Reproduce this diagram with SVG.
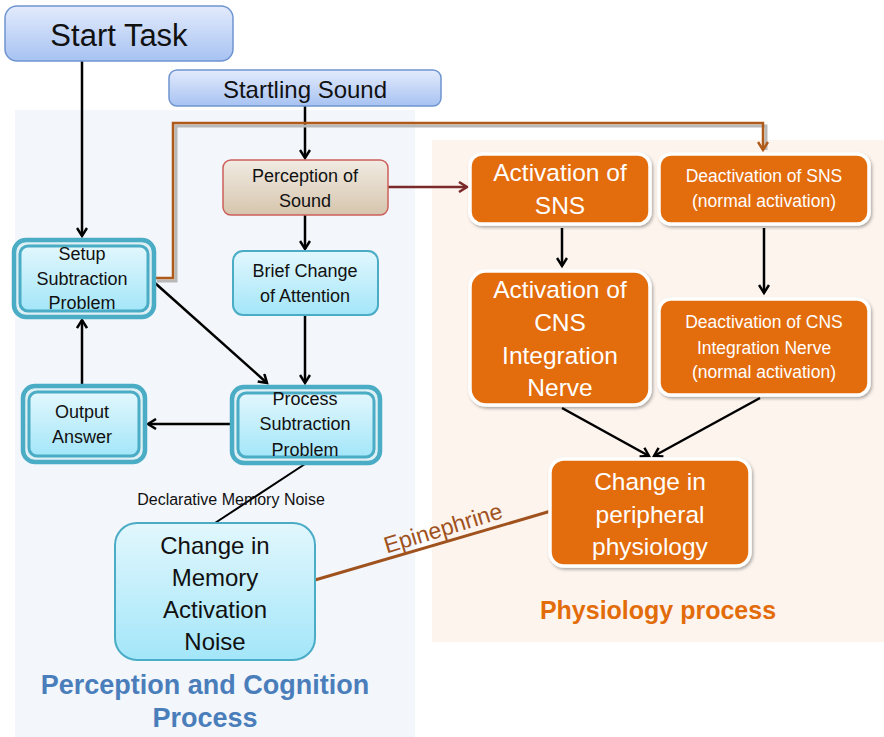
<svg xmlns="http://www.w3.org/2000/svg" width="884" height="737" viewBox="0 0 884 737">
<defs>
<style>
text{font-family:"Liberation Sans",Arial,sans-serif;text-anchor:middle;dominant-baseline:central}
.dk{fill:#111}
.wh{fill:#fff}
.conn{fill:none;stroke:#000;stroke-width:2.5}
.cyan{fill:url(#gC);stroke:#4bacc6;stroke-width:2}
.dbo{fill:#dff0f5;stroke:#4bacc6;stroke-width:4.5}
.dbi{fill:url(#gC);stroke:#4bacc6;stroke-width:3}
.blue{fill:url(#gB);stroke:#6f95d0;stroke-width:1.5}
.org{fill:#e36c0a;stroke:#fff;stroke-width:3.5;filter:url(#sh)}
</style>
<linearGradient id="gB" x1="0" y1="0" x2="0" y2="1"><stop offset="0" stop-color="#e3ebfc"/><stop offset="1" stop-color="#a7c2f2"/></linearGradient>
<linearGradient id="gC" x1="0" y1="0" x2="0" y2="1"><stop offset="0" stop-color="#e2f7fd"/><stop offset="1" stop-color="#a3e6f9"/></linearGradient>
<linearGradient id="gP" x1="0" y1="0" x2="0" y2="1"><stop offset="0" stop-color="#f1ebe3"/><stop offset="1" stop-color="#d6c5ad"/></linearGradient>
<filter id="sh" x="-10%" y="-10%" width="125%" height="130%"><feDropShadow dx="1.5" dy="2" stdDeviation="1.5" flood-color="#000" flood-opacity="0.3"/></filter>
<marker id="aK" markerWidth="12" markerHeight="12" refX="9" refY="6" orient="auto" markerUnits="userSpaceOnUse"><path d="M1,1 L9,6 L1,11" fill="none" stroke="#000" stroke-width="2.5"/></marker>
<marker id="aR" markerWidth="12" markerHeight="12" refX="9" refY="6" orient="auto" markerUnits="userSpaceOnUse"><path d="M1,1 L9,6 L1,11" fill="none" stroke="#7b2a2a" stroke-width="2.5"/></marker>
<marker id="aO" markerWidth="12" markerHeight="12" refX="9" refY="6" orient="auto" markerUnits="userSpaceOnUse"><path d="M1,1 L9,6 L1,11" fill="none" stroke="#b05a1a" stroke-width="2.5"/></marker>
</defs>
<rect width="884" height="737" fill="#fff"/>
<rect x="15" y="110" width="400" height="627" fill="#f3f6fb"/>
<rect x="432" y="140" width="452" height="502" fill="#fdf4ee"/>
<text x="205" y="685" font-size="27" font-weight="bold" fill="#4a7ebb">Perception and Cognition</text>
<text x="205" y="718" font-size="27" font-weight="bold" fill="#4a7ebb">Process</text>
<text x="658" y="610" font-size="25" font-weight="bold" fill="#e36c0a">Physiology process</text>

<g id="connectors">
<path class="conn" d="M82,61 V236" marker-end="url(#aK)"/>
<path class="conn" d="M305,106 V158" marker-end="url(#aK)"/>
<path class="conn" d="M305,215 V249" marker-end="url(#aK)"/>
<path class="conn" d="M305,315 V383" marker-end="url(#aK)"/>
<path class="conn" d="M155,283 L267,383" marker-end="url(#aK)"/>
<path class="conn" d="M230,424 H148" marker-end="url(#aK)"/>
<path class="conn" d="M82,384 V320" marker-end="url(#aK)"/>
<path d="M388,187 H467" fill="none" stroke="#7b2a2a" stroke-width="2.5" marker-end="url(#aR)"/>
<path d="M157,281 H176 V126 H766 V150" fill="none" stroke="#b8b8b8" stroke-width="3"/>
<path d="M155,278 H173 V123 H763 V150" fill="none" stroke="#b05a1a" stroke-width="2.5" marker-end="url(#aO)"/>
<path class="conn" d="M562,228 V266" marker-end="url(#aK)"/>
<path class="conn" d="M764,228 V293" marker-end="url(#aK)"/>
<path class="conn" d="M562,408 L649,456" marker-end="url(#aK)"/>
<path class="conn" d="M760,398 L654,456" marker-end="url(#aK)"/>
<path d="M305,464 L215,523" fill="none" stroke="#000" stroke-width="2"/>
<path d="M315,580 L551,511" fill="none" stroke="#a0521e" stroke-width="3"/>
<text x="231" y="499" font-size="16" class="dk">Declarative Memory Noise</text>
<text x="443" y="528" font-size="23" fill="#a0521e" transform="rotate(-17 443 528)">Epinephrine</text>
</g>

<g id="start-task">
<rect x="5" y="6" width="228" height="55" rx="12" class="blue"/>
<text x="119" y="35" font-size="31" class="dk">Start Task</text>
</g>
<g id="startling-sound">
<rect x="169" y="70" width="272" height="36" rx="8" class="blue"/>
<text x="305" y="89" font-size="24" class="dk">Startling Sound</text>
</g>
<g id="perception-of-sound">
<rect x="223" y="160" width="165" height="55" rx="8" fill="url(#gP)" stroke="#cd5f5a" stroke-width="1.5"/>
<text x="305" y="176" font-size="18" class="dk">Perception of</text>
<text x="305" y="201" font-size="18" class="dk">Sound</text>
</g>
<g id="brief-change">
<rect x="233" y="251" width="145" height="64" rx="10" class="cyan"/>
<text x="305" y="271" font-size="18" class="dk">Brief Change</text>
<text x="305" y="296" font-size="18" class="dk">of Attention</text>
</g>
<g id="setup-subtraction">
<rect x="14" y="240" width="140" height="77" rx="12" class="dbo"/>
<rect x="20" y="246" width="128" height="65" rx="8" class="dbi"/>
<text x="82" y="254" font-size="18" class="dk">Setup</text>
<text x="82" y="279" font-size="18" class="dk">Subtraction</text>
<text x="82" y="303" font-size="18" class="dk">Problem</text>
</g>
<g id="output-answer">
<rect x="23" y="386" width="122" height="76" rx="12" class="dbo"/>
<rect x="29" y="392" width="110" height="64" rx="8" class="dbi"/>
<text x="82" y="412" font-size="18" class="dk">Output</text>
<text x="82" y="437" font-size="18" class="dk">Answer</text>
</g>
<g id="process-subtraction">
<rect x="232" y="387" width="148" height="76" rx="12" class="dbo"/>
<rect x="238" y="393" width="136" height="64" rx="8" class="dbi"/>
<text x="305" y="399" font-size="18" class="dk">Process</text>
<text x="305" y="424" font-size="18" class="dk">Subtraction</text>
<text x="305" y="450" font-size="18" class="dk">Problem</text>
</g>
<g id="change-memory">
<rect x="115" y="523" width="200" height="137" rx="22" class="cyan" stroke-width="1.5"/>
<text x="215" y="545" font-size="24" class="dk">Change in</text>
<text x="215" y="577" font-size="24" class="dk">Memory</text>
<text x="215" y="609" font-size="24" class="dk">Activation</text>
<text x="215" y="641" font-size="24" class="dk">Noise</text>
</g>
<g id="activation-sns">
<rect x="470" y="154" width="180" height="70" rx="12" class="org"/>
<text x="560" y="172" font-size="24.5" class="wh">Activation of</text>
<text x="560" y="205" font-size="24.5" class="wh">SNS</text>
</g>
<g id="deactivation-sns">
<rect x="659" y="154" width="210" height="70" rx="12" class="org"/>
<text x="764" y="176" font-size="17.5" class="wh">Deactivation of SNS</text>
<text x="764" y="201" font-size="17.5" class="wh">(normal activation)</text>
</g>
<g id="activation-cns">
<rect x="470" y="271" width="180" height="134" rx="16" class="org"/>
<text x="560" y="289" font-size="24.5" class="wh">Activation of</text>
<text x="560" y="322" font-size="24.5" class="wh">CNS</text>
<text x="560" y="355" font-size="24.5" class="wh">Integration</text>
<text x="560" y="387" font-size="24.5" class="wh">Nerve</text>
</g>
<g id="deactivation-cns">
<rect x="659" y="299" width="210" height="96" rx="12" class="org"/>
<text x="764" y="322" font-size="17.5" class="wh">Deactivation of CNS</text>
<text x="764" y="348" font-size="17.5" class="wh">Integration Nerve</text>
<text x="764" y="372" font-size="17.5" class="wh">(normal activation)</text>
</g>
<g id="change-physiology">
<rect x="550" y="459" width="200" height="107" rx="14" class="org"/>
<text x="650" y="481" font-size="24.5" class="wh">Change in</text>
<text x="650" y="514" font-size="24.5" class="wh">peripheral</text>
<text x="650" y="546" font-size="24.5" class="wh">physiology</text>
</g>
</svg>
